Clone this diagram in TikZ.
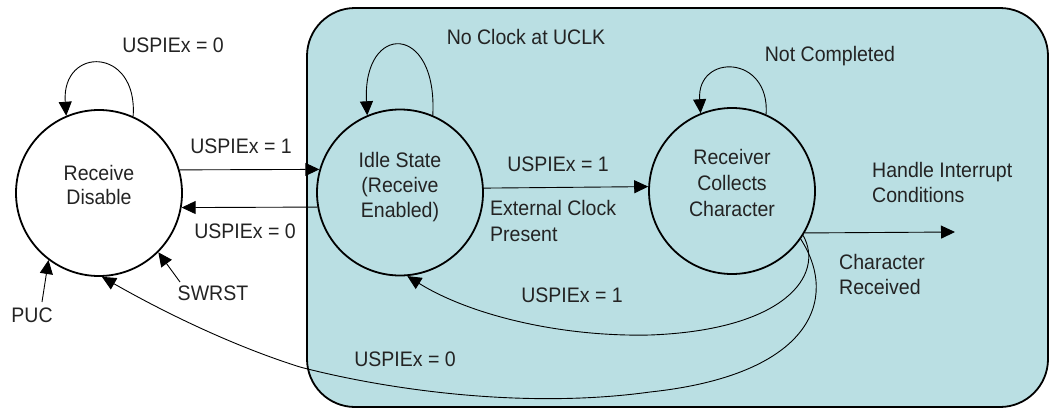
\documentclass[tikz,border=0pt]{standalone}
\usepackage{fontspec}
\setmainfont{Liberation Sans}[FakeStretch=0.93]
\usetikzlibrary{arrows.meta}
\definecolor{panel}{RGB}{186,223,227}
\definecolor{ink}{RGB}{35,35,35}
\begin{document}
\begin{tikzpicture}[x=1pt,y=-1pt,
  state/.style={circle, draw, line width=1.8pt, minimum size=166pt, inner sep=0pt},
  txt/.style={text=ink, font=\fontsize{21}{24}\selectfont, inner sep=0pt},
  conn/.style={line width=0.9pt, -{Triangle[length=14pt,width=13pt]}},
]
\useasboundingbox (0,0) rectangle (1051,410);

% receive-enabled region
\draw[line width=1.8pt, fill=panel, rounded corners=48pt] (307,8) rectangle (1048,407);

% states
\node[state] (rd) at (99,193) {};
\node[txt, align=center, yshift=8pt] (rdtxt) at (rd) {Receive\\Disable};
\node[state] (idle) at (400,192.5) {};
\node[txt, align=center, yshift=5pt, font=\fontsize{21}{25}\selectfont] (idletxt) at (idle) {Idle State\\(Receive\\Enabled)};
\node[state] (rc) at (732,191) {};
\node[txt, align=center, yshift=8pt, font=\fontsize{21}{26}\selectfont] (rctxt) at (rc) {Receiver\\Collects\\Character};

\coordinate (out) at (955,232);
\coordinate (pucs) at (42,302);
\coordinate (sws) at (180,282);

% self loops
\draw[conn] (rd.66) .. controls +(5,-70) and +(-5,-70) .. (rd.113);
\draw[conn] (idle.67) .. controls +(5,-93) and +(-5,-93) .. (idle.113);
\draw[conn] (rc.66) .. controls +(4,-60) and +(-4,-60) .. (rc.112);

% transitions
\draw[conn] (rd.16) -- (idle.164);
\draw[conn] (idle.190) -- (rd.350);
\draw[conn] (idle.3) -- (rc.177);
\draw[conn] (rc.330) -- (out);
\draw[conn] (rc.328) .. controls (825,275) and (785,330) .. (650,335)
  .. controls (560,337) and (470,315) .. (idle.275);
\draw[conn] (rc.325) .. controls (840,300) and (810,375) .. (650,392)
  .. controls (520,410) and (380,388) .. (300,367)
  .. controls (230,345) and (160,310) .. (rd.272);
\draw[conn] (pucs) -- (rd.233);
\draw[conn] (sws) -- (rd.315);

% labels
\node[txt, anchor=base] (l1) at (173,52) {USPIEx = 0};
\node[txt, anchor=base] (l2) at (241,153) {USPIEx = 1};
\node[txt, anchor=base] (l3) at (245,238) {USPIEx = 0};
\node[txt, anchor=base] (l4) at (526,44) {No Clock at UCLK};
\node[txt, anchor=base] (l5) at (558,171) {USPIEx = 1};
\node[txt, anchor=north west, align=left, font=\fontsize{21}{26}\selectfont] (l6) at (490,200) {External Clock\\Present};
\node[txt, anchor=base] (l7) at (572,302) {USPIEx = 1};
\node[txt, anchor=base] (l8) at (405,366) {USPIEx = 0};
\node[txt, anchor=base] (l9) at (830,61) {Not Completed};
\node[txt, anchor=north west, align=left, font=\fontsize{21}{25}\selectfont] (l10) at (872,162) {Handle Interrupt\\Conditions};
\node[txt, anchor=north west, align=left, font=\fontsize{21}{25}\selectfont] (l11) at (839,254) {Character\\Received};
\node[txt, anchor=base] (puc) at (32,322) {PUC};
\node[txt, anchor=base] (swrst) at (213,300) {SWRST};
\end{tikzpicture}
\end{document}
